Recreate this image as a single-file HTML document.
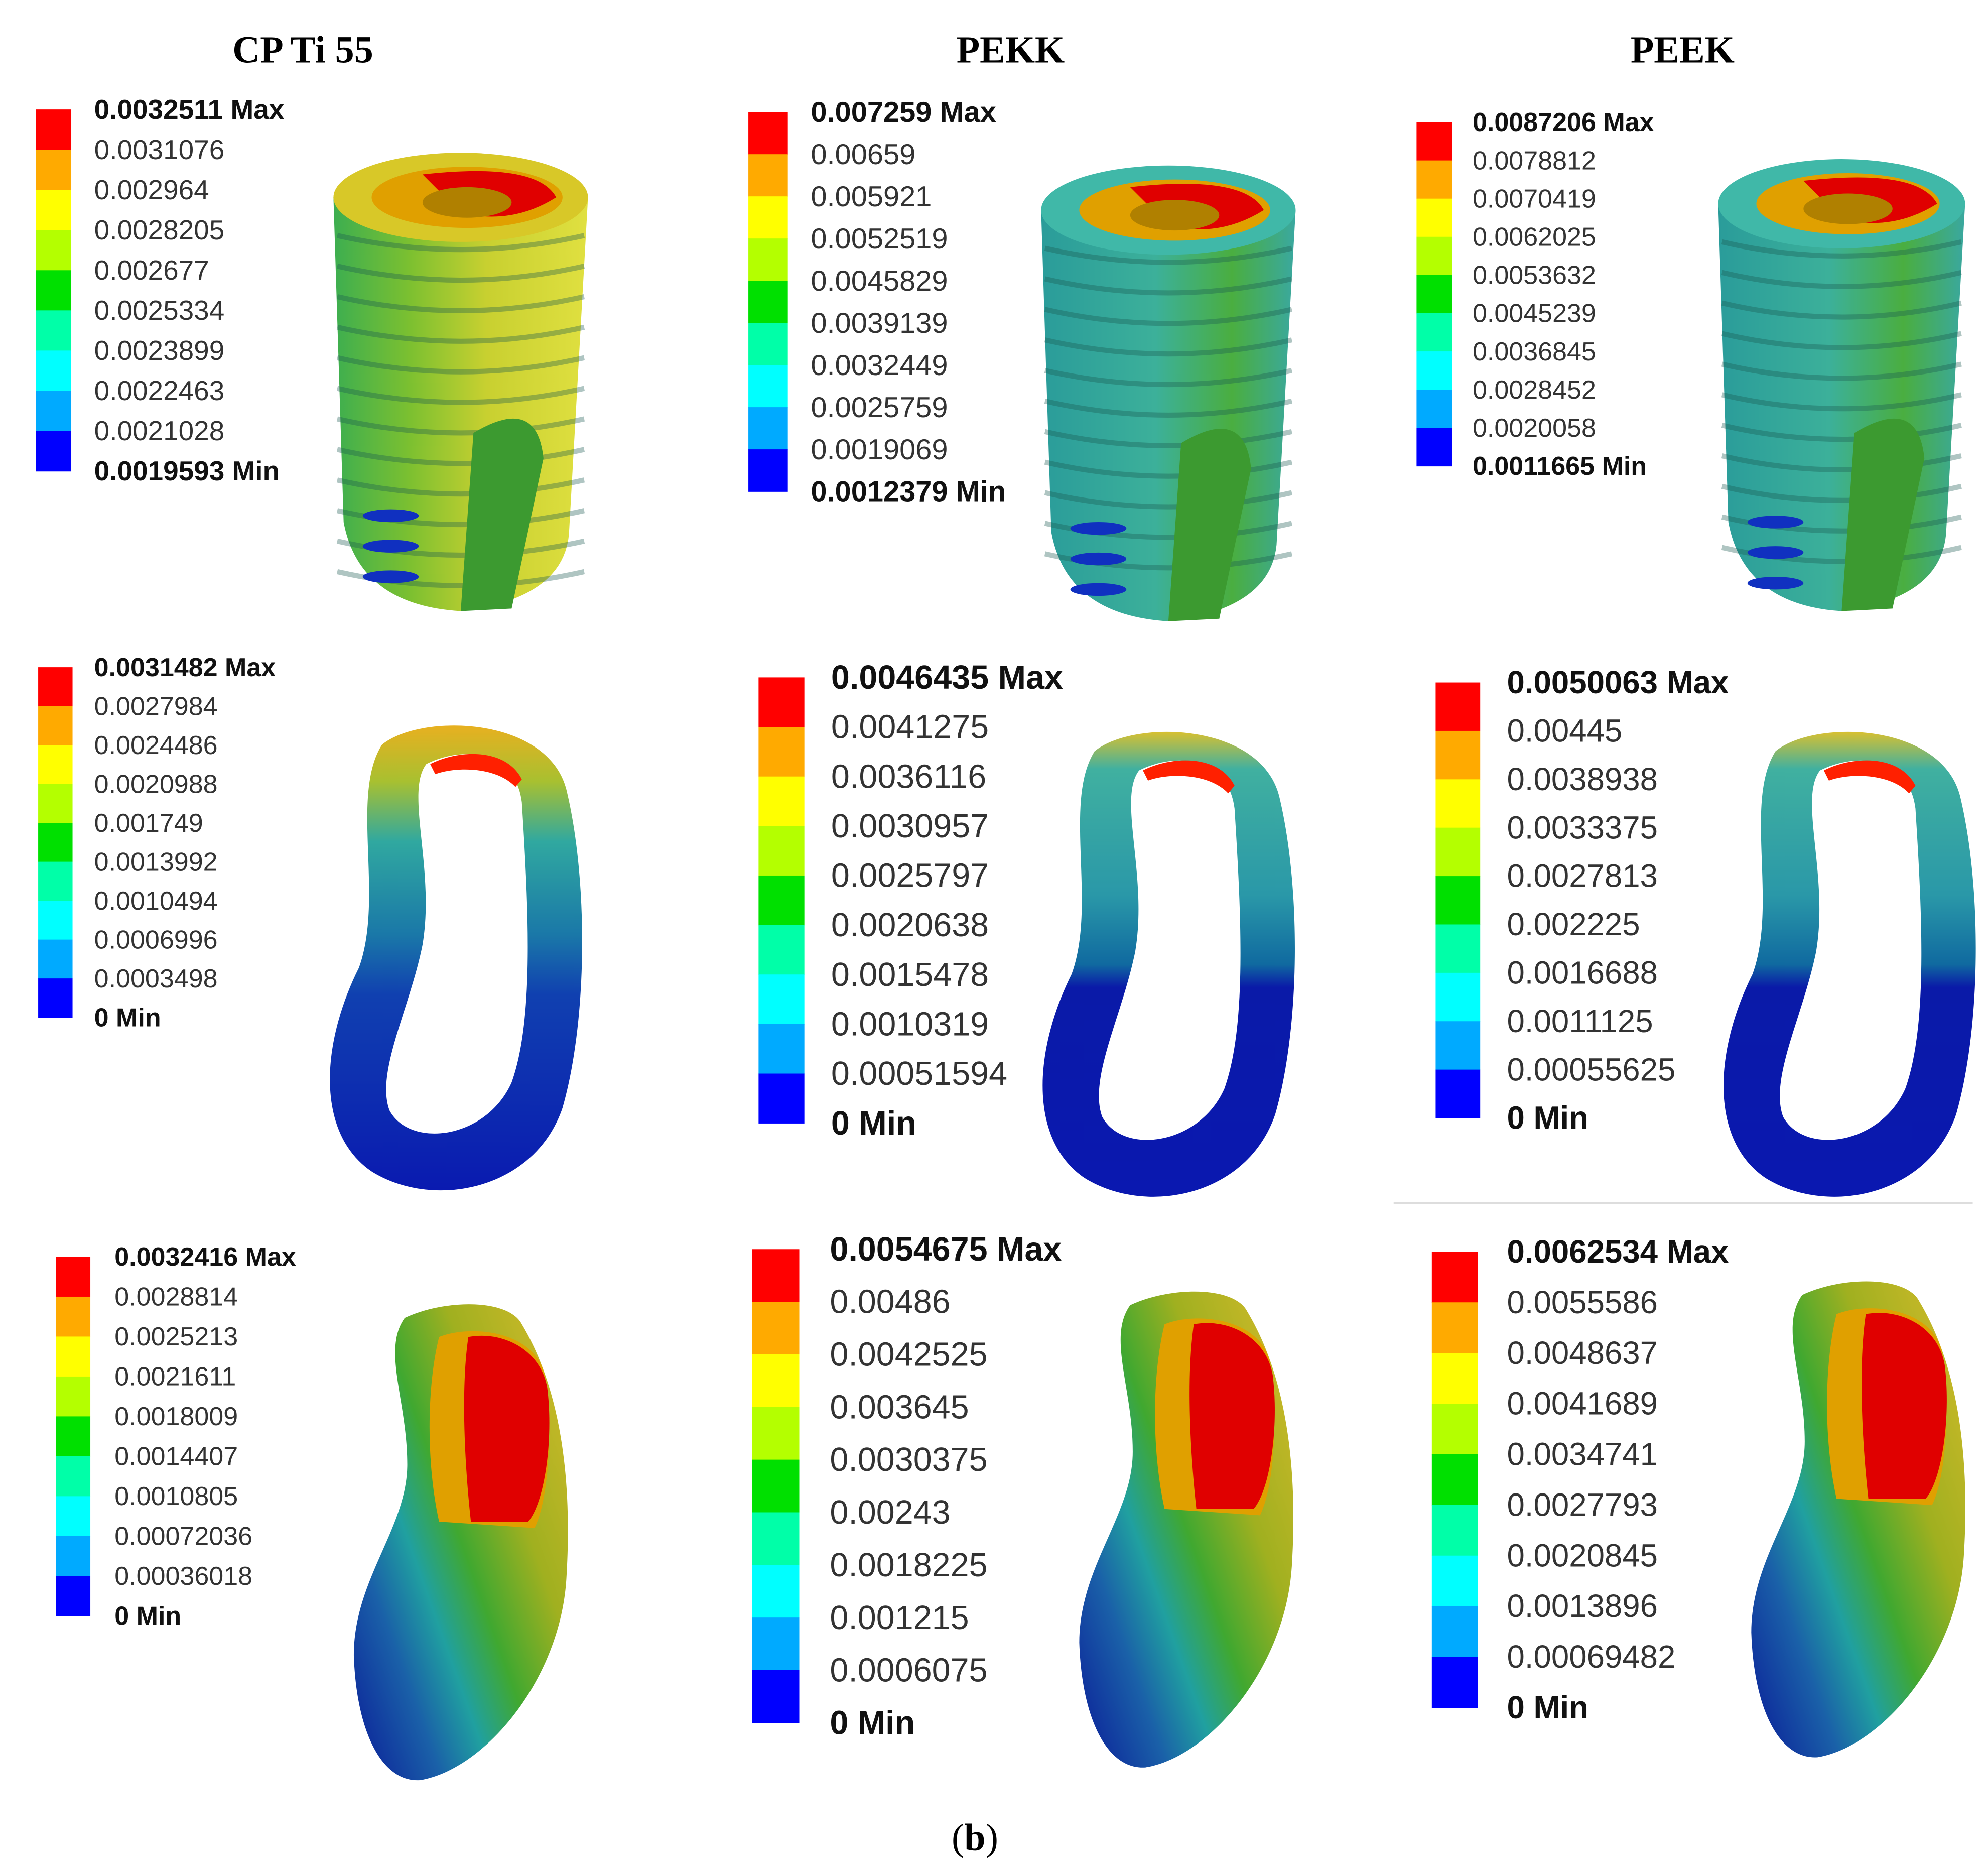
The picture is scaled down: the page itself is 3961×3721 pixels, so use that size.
<!DOCTYPE html>
<html><head><meta charset="utf-8">
<style>
html,body{margin:0;padding:0;background:#fff;}
svg{display:block;}
</style></head>
<body>
<svg id="fig" xmlns="http://www.w3.org/2000/svg" width="3961" height="3721" viewBox="0 0 1562 1467" preserveAspectRatio="none">
<defs>
<linearGradient id="gImpA" x1="0" y1="0" x2="1" y2="0"><stop offset="0" stop-color="#3cae50"/><stop offset="0.3" stop-color="#7cc030"/><stop offset="0.6" stop-color="#c8d030"/><stop offset="1" stop-color="#e0e040"/></linearGradient>
<linearGradient id="gImpB" x1="0" y1="0" x2="1" y2="0"><stop offset="0" stop-color="#2a9c9a"/><stop offset="0.45" stop-color="#3cb09a"/><stop offset="0.75" stop-color="#4aae40"/><stop offset="1" stop-color="#3aa8a0"/></linearGradient>
<linearGradient id="gRing" x1="0" y1="0" x2="0" y2="1"><stop offset="0" stop-color="#e8b020"/><stop offset="0.12" stop-color="#a8c030"/><stop offset="0.25" stop-color="#30a8a0"/><stop offset="0.45" stop-color="#1a78a8"/><stop offset="0.58" stop-color="#1040b0"/><stop offset="1" stop-color="#0a1ab0"/></linearGradient>
<linearGradient id="gRing2" x1="0" y1="0" x2="0" y2="1"><stop offset="0" stop-color="#d8c030"/><stop offset="0.08" stop-color="#40b0a0"/><stop offset="0.35" stop-color="#2a98a8"/><stop offset="0.5" stop-color="#106aa0"/><stop offset="0.55" stop-color="#0a1aa8"/><stop offset="1" stop-color="#0a18b0"/></linearGradient>
<linearGradient id="gBean" x1="0" y1="1" x2="1" y2="0.2"><stop offset="0" stop-color="#0a1a98"/><stop offset="0.25" stop-color="#1a60a8"/><stop offset="0.4" stop-color="#20a0a0"/><stop offset="0.55" stop-color="#40a830"/><stop offset="0.75" stop-color="#a0b020"/><stop offset="1" stop-color="#c8b828"/></linearGradient>
</defs>
<g id="titles" font-family="'Liberation Serif',serif" font-weight="bold" font-size="30" text-anchor="middle">
<text x="238" y="49">CP Ti 55</text>
<text x="794" y="49">PEKK</text>
<text x="1322" y="49">PEEK</text>
<text x="766" y="1453" font-weight="normal">(<tspan font-weight="bold">b</tspan>)</text>
</g>
<line x1="1095" y1="945" x2="1550" y2="945" stroke="#ddd" stroke-width="1.5"/>
<g id="shapes"></g>
<g id="legends"></g>
</svg>
<script>
const legendColors = ["#ff0000","#ffaa00","#ffff00","#b4ff00","#00e000","#00ffa8","#00ffff","#00aaff","#0000ff"];
const labels1 = ["0.0032511 Max","0.0031076","0.002964","0.0028205","0.002677","0.0025334","0.0023899","0.0022463","0.0021028","0.0019593 Min"];
const labels2 = ["0.007259 Max","0.00659","0.005921","0.0052519","0.0045829","0.0039139","0.0032449","0.0025759","0.0019069","0.0012379 Min"];
const labels3 = ["0.0087206 Max","0.0078812","0.0070419","0.0062025","0.0053632","0.0045239","0.0036845","0.0028452","0.0020058","0.0011665 Min"];
const labels4 = ["0.0031482 Max","0.0027984","0.0024486","0.0020988","0.001749","0.0013992","0.0010494","0.0006996","0.0003498","0 Min"];
const labels5 = ["0.0046435 Max","0.0041275","0.0036116","0.0030957","0.0025797","0.0020638","0.0015478","0.0010319","0.00051594","0 Min"];
const labels6 = ["0.0050063 Max","0.00445","0.0038938","0.0033375","0.0027813","0.002225","0.0016688","0.0011125","0.00055625","0 Min"];
const labels7 = ["0.0032416 Max","0.0028814","0.0025213","0.0021611","0.0018009","0.0014407","0.0010805","0.00072036","0.00036018","0 Min"];
const labels8 = ["0.0054675 Max","0.00486","0.0042525","0.003645","0.0030375","0.00243","0.0018225","0.001215","0.0006075","0 Min"];
const labels9 = ["0.0062534 Max","0.0055586","0.0048637","0.0041689","0.0034741","0.0027793","0.0020845","0.0013896","0.00069482","0 Min"];

const NS="http://www.w3.org/2000/svg";
function mk(tag,attrs,parent){const e=document.createElementNS(NS,tag);for(const k in attrs)e.setAttribute(k,attrs[k]);parent.appendChild(e);return e;}

const legendLayout=[
 {labels:labels1,x:28,w:28,top:86,bot:370,lx:74,fs:19,name:"cp-ti-implant"},
 {labels:labels2,x:588,w:31,top:88,bot:386,lx:637,fs:20,name:"pekk-implant"},
 {labels:labels3,x:1113,w:28,top:96,bot:366,lx:1157,fs:18,name:"peek-implant"},
 {labels:labels4,x:30,w:27,top:524,bot:799,lx:74,fs:18,name:"cp-ti-bone-section"},
 {labels:labels5,x:596,w:36,top:532,bot:882,lx:653,fs:23,name:"pekk-bone-section"},
 {labels:labels6,x:1128,w:35,top:536,bot:878,lx:1184,fs:22,name:"peek-bone-section"},
 {labels:labels7,x:44,w:27,top:987,bot:1269,lx:90,fs:18,name:"cp-ti-bone"},
 {labels:labels8,x:591,w:37,top:981,bot:1353,lx:652,fs:23,name:"pekk-bone"},
 {labels:labels9,x:1125,w:36,top:983,bot:1341,lx:1184,fs:22,name:"peek-bone"}
];
const lg=document.getElementById('legends');
legendLayout.forEach(L=>{
  const g=mk('g',{},lg);
  
  
  const h=(L.bot-L.top)/legendColors.length;
  const fs=L.fs*1.14;
  legendColors.forEach((c,i)=>{
    const r=mk('rect',{x:L.x,y:L.top+i*h,width:L.w,height:h+0.3,fill:c},g);
    
    
  });
  L.labels.forEach((t,i)=>{
    const bold=(i===0||i===L.labels.length-1);
    const tx=mk('text',{x:L.lx,y:L.top+i*h+fs*0.34,'font-family':"'Liberation Sans',sans-serif",'font-size':fs,'font-weight':bold?'bold':'normal',fill:bold?'#111':'#333'},g);
    tx.textContent=t;
    
    
  });
});

const sh=document.getElementById('shapes');
const implants=[{cx:362,top:155,bot:470,rx:100,fill:"url(#gImpA)",name:"cp-ti-implant-model"},
                {cx:918,top:165,bot:478,rx:100,fill:"url(#gImpB)",name:"pekk-implant-model"},
                {cx:1447,top:160,bot:470,rx:97,fill:"url(#gImpB)",name:"peek-implant-model"}];
implants.forEach(m=>{
  const g=mk('g',{},sh);
  
  
  mk('path',{d:`M${m.cx-m.rx},${m.top} L${m.cx-m.rx+8},${m.bot-60} Q${m.cx-m.rx+20},${m.bot+5} ${m.cx},${m.bot+10} Q${m.cx+m.rx-20},${m.bot} ${m.cx+m.rx-15},${m.bot-50} L${m.cx+m.rx},${m.top} Z`,fill:m.fill},g);
  for(let y=m.top+30;y<m.bot-20;y+=24){
    mk('path',{d:`M${m.cx-m.rx+3},${y} Q${m.cx},${y+22} ${m.cx+m.rx-3},${y}`,stroke:'#1a5a50','stroke-opacity':0.35,'stroke-width':4,fill:'none'},g);
  }
  for(let y=m.top+250;y<m.bot;y+=24){
    mk('ellipse',{cx:m.cx-m.rx+45,cy:y,rx:22,ry:5,fill:'#1030c0'},g);
  }
  mk('path',{d:`M${m.cx+10},${m.bot-130} Q${m.cx+60},${m.bot-160} ${m.cx+65},${m.bot-110} L${m.cx+40},${m.bot+8} L${m.cx},${m.bot+10} Z`,fill:'#3c9a30'},g);
  mk('ellipse',{cx:m.cx,cy:m.top,rx:m.rx,ry:35,fill:m.fill==="url(#gImpA)"?"#d8c828":"#40b8a8"},g);
  mk('ellipse',{cx:m.cx+5,cy:m.top,rx:m.rx-25,ry:24,fill:'#e0a000'},g);
  mk('path',{d:`M${m.cx-30},${m.top-18} Q${m.cx+60},${m.top-28} ${m.cx+75},${m.top} Q${m.cx+40},${m.top+22} ${m.cx},${m.top+12} Z`,fill:'#e00000'},g);
  mk('ellipse',{cx:m.cx+5,cy:m.top+4,rx:35,ry:12,fill:'#b08000'},g);
});
const rings=[{dx:0,dy:0,fill:"url(#gRing)",name:"cp-ti-bone-section-model"},
             {dx:560,dy:5,fill:"url(#gRing2)",name:"pekk-bone-section-model"},
             {dx:1095,dy:5,fill:"url(#gRing2)",name:"peek-bone-section-model"}];
rings.forEach(r=>{
  const g=mk('g',{transform:`translate(${r.dx},${r.dy})`},sh);
  
  
  mk('path',{'fill-rule':'evenodd',fill:r.fill,d:"M300,585 C330,560 430,562 445,620 C462,690 462,800 442,870 C420,935 340,950 292,920 C248,890 252,820 282,760 C302,705 275,625 300,585 Z M335,600 C365,585 405,590 410,630 C415,710 420,800 402,850 C382,895 322,902 306,872 C295,842 322,792 332,742 C342,682 318,622 335,600 Z"},g);
  mk('path',{d:"M338,600 C362,588 398,588 410,612 L405,618 C390,602 358,602 342,608 Z",fill:'#ff2000'},g);
});
const beans=[{dx:0,dy:0,name:"cp-ti-bone-model"},{dx:570,dy:-10,name:"pekk-bone-model"},{dx:1098,dy:-18,name:"peek-bone-model"}];
beans.forEach(b=>{
  const g=mk('g',{transform:`translate(${b.dx},${b.dy})`},sh);
  
  
  mk('path',{fill:'url(#gBean)',d:"M318,1035 C350,1020 400,1020 410,1040 C440,1090 450,1160 445,1240 C440,1320 380,1390 330,1398 C300,1400 280,1360 278,1300 C278,1240 320,1200 320,1150 C320,1100 300,1060 318,1035 Z"},g);
  mk('path',{fill:'#e0a000',d:"M345,1050 C370,1040 420,1045 428,1080 C435,1130 430,1180 420,1200 L345,1195 C335,1150 335,1090 345,1050 Z"},g);
  mk('path',{fill:'#e00000',d:"M368,1050 C395,1045 425,1060 430,1090 C435,1130 428,1180 415,1195 L370,1195 C365,1150 362,1090 368,1050 Z"},g);
});
</script>
</body></html>
